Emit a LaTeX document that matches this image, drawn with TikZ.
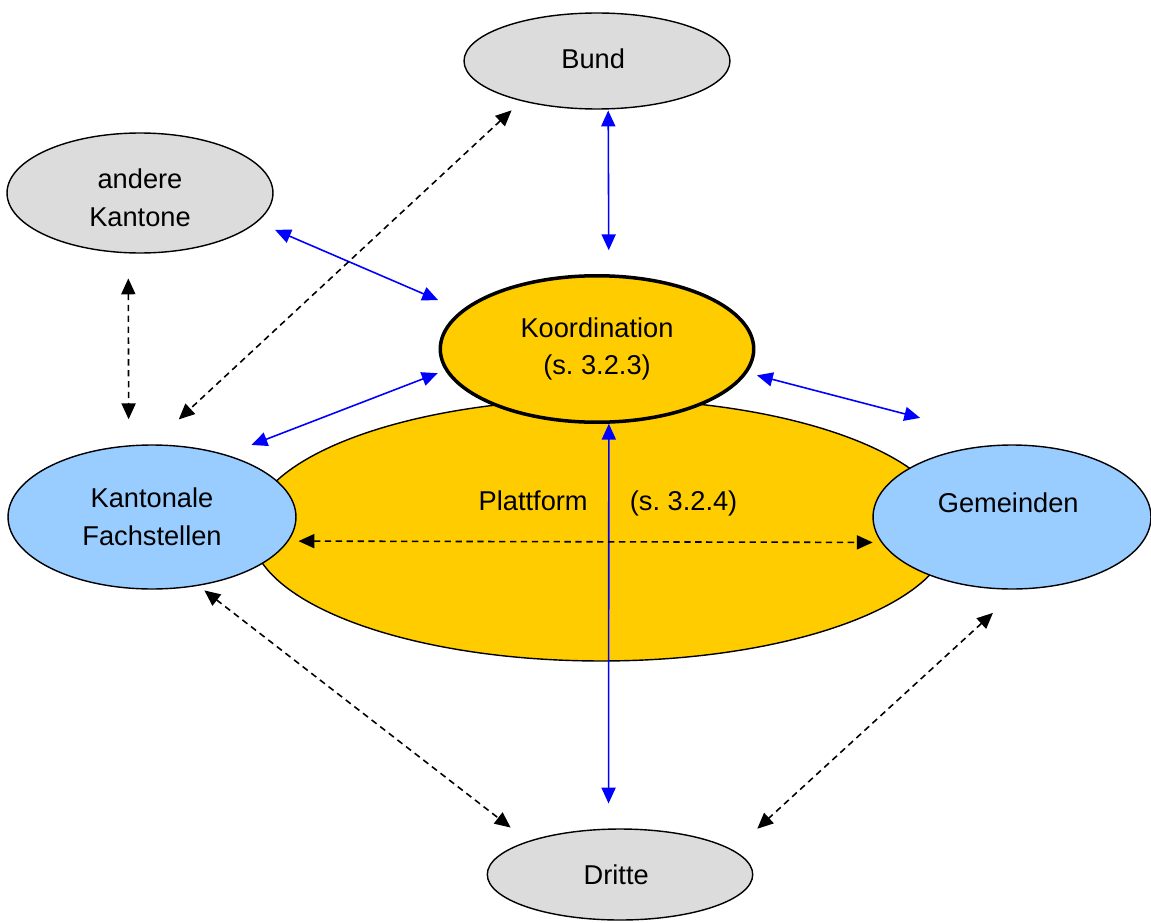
\documentclass[tikz,border=0pt]{standalone}
\usepackage{fontspec}
\setmainfont{Liberation Sans}
\usepackage{xcolor}
\usetikzlibrary{
  arrows.meta,
  shapes.geometric
}
\definecolor{grau}{RGB}{220,220,220}
\definecolor{hellblau}{RGB}{153,204,255}
\definecolor{gold}{RGB}{255,204,0}
\tikzset{
  feld/.style={ellipse, draw, line width=0.8pt, inner sep=0pt, align=center,
    font=\fontsize{15.5}{21.5}\selectfont},
  pfeil/.style={{Triangle[length=9pt,width=8pt]}-{Triangle[length=9pt,width=8pt]}, line width=0.9pt},
  blaupfeil/.style={pfeil, blue},
  strichpfeil/.style={pfeil, black, dash pattern=on 3.6pt off 2.6pt}
}
\frenchspacing

\begin{document}
\begin{tikzpicture}[x=0.02cm, y=-0.02cm]
  \def\W{1151};
  \def\H{922};
  \useasboundingbox (0,0) rectangle (\W,\H);
        % Plattform unten, Koordination darueber
        \node[feld, fill=gold, minimum width=14cm, minimum height=5.24cm] (plattform) at (601,530) {};
        \node[font=\fontsize{15.5}{21.5}\selectfont] (plattformtext) at (608,503) { Plattform\hspace{24pt}(s. 3.2.4) };

        \node[feld, fill=grau, minimum width=5.32cm, minimum height=1.92cm, text depth=3pt] (bund) at (597,61) { Bund };
        \node[feld, fill=grau, minimum width=5.32cm, minimum height=2.4cm] (andere) at (140,193) { \rule{0pt}{17pt}andere\\Kantone };
        \node[feld, fill=gold, line width=2pt, minimum width=6.27cm, minimum height=2.93cm] (koord) at (597,349) { Koordination\\(s. 3.2.3) };
        \node[feld, fill=hellblau, minimum width=5.76cm, minimum height=2.88cm] (kantonal) at (152,517) { Kantonale\\Fachstellen };
        \node[feld, fill=hellblau, minimum width=5.56cm, minimum height=2.88cm, text height=11pt, text depth=16pt] (gemeinden) at (1012,517) { Gemeinden };
        \node[feld, fill=grau, minimum width=5.31cm, minimum height=1.82cm] (dritte) at (620,874.5) { Dritte };

	% blaue Verbindungen zur Koordination
	\draw[blaupfeil, shorten <=0.02cm, shorten >=0.48cm] (bund.-77) -- (koord.81.2);
	\draw[blaupfeil, shorten <=0.39cm, shorten >=0.51cm] (andere.-14.2) -- (koord.164.1);
	\draw[blaupfeil, shorten <=0.54cm, shorten >=0.16cm] (kantonal.40.6) -- (koord.188.4);
	\draw[blaupfeil, shorten <=0.2cm, shorten >=2.11cm] (koord.-9) -- (gemeinden.82);
	\draw[blaupfeil, shorten <=0cm, shorten >=0.5cm] (koord.-81.2) -- (dritte.104.8);

	% gestrichelte Verbindungen
	\draw[strichpfeil, shorten <=0.27cm, shorten >=0.73cm] (bund.-152.2) -- (kantonal.90.6);
	\draw[strichpfeil, shorten <=0.5cm, shorten >=0.52cm] (andere.-101.4) -- (kantonal.108.7);
	\draw[strichpfeil, shorten <=0.2cm, shorten >=0.17cm] (kantonal.-10.5) -- (gemeinden.-169.2);
	\draw[strichpfeil, shorten <=0.15cm, shorten >=0.44cm] (kantonal.-56.6) -- (dritte.160.2);
	\draw[strichpfeil, shorten <=0.69cm, shorten >=0.64cm] (gemeinden.-85.6) -- (dritte.12.5);

\end{tikzpicture}
\end{document}
